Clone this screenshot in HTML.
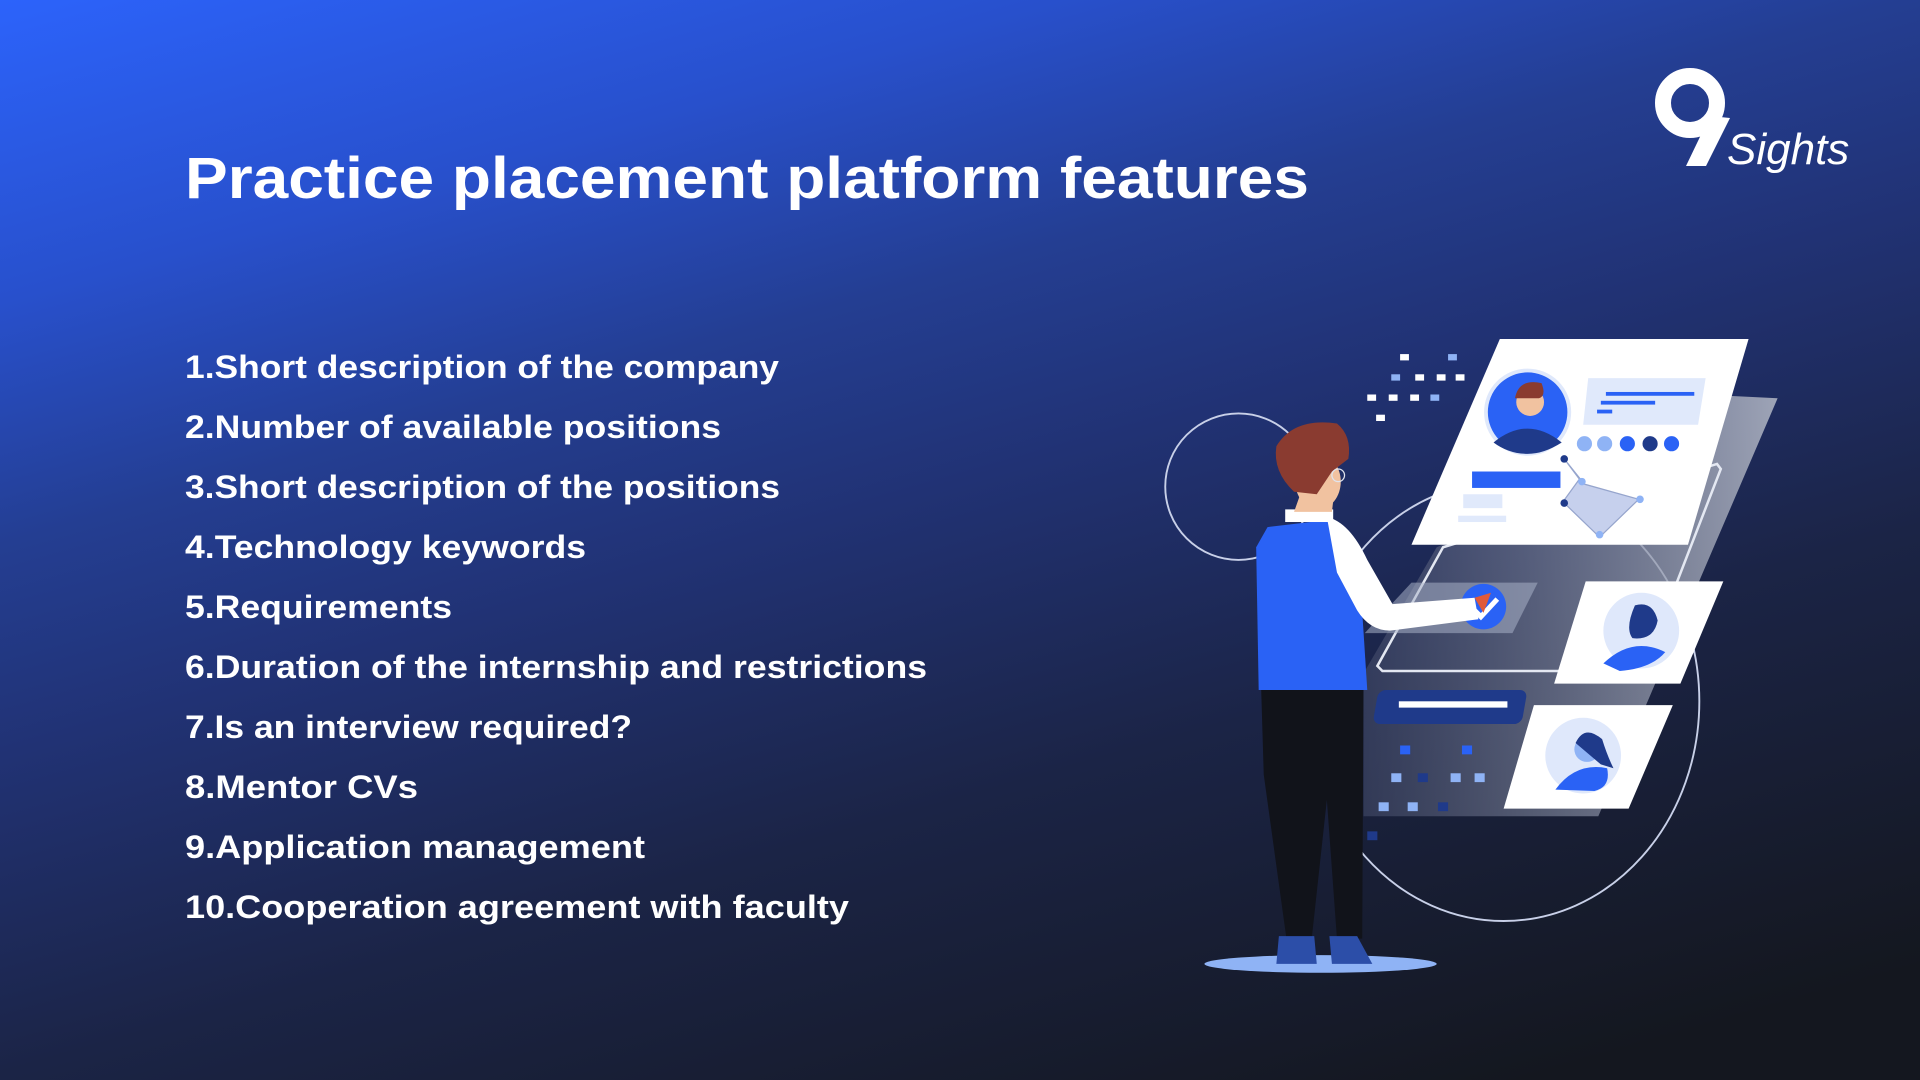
<!DOCTYPE html>
<html><head><meta charset="utf-8"><style>
html,body{margin:0;padding:0;width:1920px;height:1080px;overflow:hidden}
svg{display:block}
text{font-family:"Liberation Sans",sans-serif}
</style></head><body>
<svg width="1920" height="1080" viewBox="0 0 1920 1080" xmlns="http://www.w3.org/2000/svg">
<defs>
<linearGradient id="bg" x1="0" y1="0" x2="400" y2="1400" gradientUnits="userSpaceOnUse">
<stop offset="0" stop-color="#2c63fb"/>
<stop offset="0.2" stop-color="#2850cc"/>
<stop offset="0.36" stop-color="#243e92"/>
<stop offset="0.5" stop-color="#213274"/>
<stop offset="0.71" stop-color="#1b2446"/>
<stop offset="1" stop-color="#14171f"/>
</linearGradient>
<linearGradient id="panel" x1="0" y1="0" x2="1" y2="0">
<stop offset="0" stop-color="#4a5270" stop-opacity="0.6"/>
<stop offset="1" stop-color="#b4b9c6"/>
</linearGradient>
</defs>
<rect width="1920" height="1080" fill="url(#bg)"/>

<text x="185" y="198" font-size="58" font-weight="bold" fill="#fff" textLength="1124" lengthAdjust="spacingAndGlyphs">Practice placement platform features</text>

<g font-size="32" font-weight="bold" fill="#fff">
<text x="185" y="378" textLength="594" lengthAdjust="spacingAndGlyphs">1.Short description of the company</text>
<text x="185" y="438" textLength="536" lengthAdjust="spacingAndGlyphs">2.Number of available positions</text>
<text x="185" y="498" textLength="595" lengthAdjust="spacingAndGlyphs">3.Short description of the positions</text>
<text x="185" y="558" textLength="401" lengthAdjust="spacingAndGlyphs">4.Technology keywords</text>
<text x="185" y="618" textLength="267" lengthAdjust="spacingAndGlyphs">5.Requirements</text>
<text x="185" y="678" textLength="742" lengthAdjust="spacingAndGlyphs">6.Duration of the internship and restrictions</text>
<text x="185" y="738" textLength="447" lengthAdjust="spacingAndGlyphs">7.Is an interview required?</text>
<text x="185" y="798" textLength="233" lengthAdjust="spacingAndGlyphs">8.Mentor CVs</text>
<text x="185" y="858" textLength="460" lengthAdjust="spacingAndGlyphs">9.Application management</text>
<text x="185" y="918" textLength="664" lengthAdjust="spacingAndGlyphs">10.Cooperation agreement with faculty</text>
</g>

<g fill="none" stroke="#fff" stroke-width="16">
<circle cx="1690" cy="103" r="27"/>
</g>
<path d="M1710 116 L1686 166 L1706 166 L1730 118 Z" fill="#fff"/>
<text x="1727" y="164" font-size="44" font-style="italic" fill="#fff">Sights</text>

<g transform="translate(1140,320) scale(1.2626) translate(-1140,-320)">
<circle cx="1218" cy="452" r="58" fill="none" stroke="#c8d0e8" stroke-width="1.5"/>
<ellipse cx="1428" cy="622" rx="155" ry="174" fill="none" stroke="#c8d0e8" stroke-width="1.5"/>
<polygon points="1605,380 1645,382 1503,713 1317,713 1317,600 1375,500 1560,420" fill="url(#panel)" opacity="0.85"/>
<polygon points="1380,500 1597,434 1600,438 1538,598 1332,598 1328,594" fill="none" stroke="#e4e8f2" stroke-width="2"/>
<g fill="#fff">
<rect x="1346" y="347" width="7" height="5"/><rect x="1384" y="347" width="7" height="5" fill="#8fb3f5"/>
<rect x="1339" y="363" width="7" height="5" fill="#8fb3f5"/><rect x="1358" y="363" width="7" height="5"/><rect x="1375" y="363" width="7" height="5"/><rect x="1390" y="363" width="7" height="5"/>
<rect x="1320" y="379" width="7" height="5"/><rect x="1337" y="379" width="7" height="5"/><rect x="1354" y="379" width="7" height="5"/><rect x="1370" y="379" width="7" height="5" fill="#8fb3f5"/>
<rect x="1327" y="395" width="7" height="5"/>
</g>
<polygon points="1425,335 1622,335 1574,498 1355,498" fill="#fff"/>
<circle cx="1447" cy="393" r="33" fill="#2a62f5" stroke="#dfe8fb" stroke-width="3"/>
<path d="M1420 417 Q1447 395 1474 417 Q1460 426 1447 426 Q1432 426 1420 417Z" fill="#1f3a8a"/>
<circle cx="1449" cy="385" r="11" fill="#f1c2a0"/>
<path d="M1437 382 Q1440 366 1458 370 Q1462 380 1456 382Z" fill="#8a3b30"/>
<polygon points="1495,366 1588,366 1582,403 1491,403" fill="#e0e9fb"/>
<rect x="1509" y="377" width="70" height="3" fill="#2a62f5"/><rect x="1505" y="384" width="43" height="3" fill="#2a62f5"/><rect x="1502" y="391" width="12" height="3" fill="#2a62f5"/>
<circle cx="1492" cy="418" r="6" fill="#8fb3f5"/><circle cx="1508" cy="418" r="6" fill="#8fb3f5"/><circle cx="1526" cy="418" r="6" fill="#2a62f5"/><circle cx="1544" cy="418" r="6" fill="#1f3a8a"/><circle cx="1561" cy="418" r="6" fill="#2a62f5"/>
<rect x="1403" y="440" width="70" height="13" fill="#2a62f5"/>
<rect x="1396" y="458" width="31" height="11" fill="#e0e9fb"/>
<rect x="1392" y="475" width="38" height="5" fill="#e0e9fb"/>
<polygon points="1476,430 1492,450 1535,462 1504,492 1475,464 1488,446" fill="#aebde6" opacity="0.7" stroke="#6b7fb8" stroke-width="1"/>
<circle cx="1476" cy="430" r="3" fill="#1f3a8a"/><circle cx="1476" cy="465" r="3" fill="#1f3a8a"/><circle cx="1536" cy="462" r="3" fill="#8fb3f5"/><circle cx="1490" cy="448" r="3" fill="#8fb3f5"/><circle cx="1504" cy="490" r="3" fill="#8fb3f5"/>
<polygon points="1355,528 1455,528 1435,568 1318,568" fill="#a8b0c6" opacity="0.55"/>
<circle cx="1412" cy="547" r="18" fill="#2a62f5"/>
<path d="M1403 548 L1410 555 L1423 541" stroke="#fff" stroke-width="4" fill="none"/>
<rect x="1327" y="613" width="118" height="27" rx="6" fill="#1f3a8a" transform="skewX(-10) translate(110,0)"/>
<rect x="1345" y="622" width="86" height="5" fill="#fff"/>
<g>
<rect x="1346" y="657" width="8" height="7" fill="#2a62f5"/><rect x="1395" y="657" width="8" height="7" fill="#2a62f5"/>
<rect x="1339" y="679" width="8" height="7" fill="#8fb3f5"/><rect x="1360" y="679" width="8" height="7" fill="#1f3a8a"/><rect x="1386" y="679" width="8" height="7" fill="#8fb3f5"/><rect x="1405" y="679" width="8" height="7" fill="#8fb3f5"/>
<rect x="1329" y="702" width="8" height="7" fill="#8fb3f5"/><rect x="1352" y="702" width="8" height="7" fill="#8fb3f5"/><rect x="1376" y="702" width="8" height="7" fill="#1f3a8a"/>
<rect x="1320" y="725" width="8" height="7" fill="#1f3a8a"/>
</g>
<polygon points="1493,527 1602,527 1568,608 1468,608" fill="#fff"/>
<circle cx="1537" cy="566" r="30" fill="#dfe8fb"/>
<path d="M1507 592 Q1530 570 1556 583 Q1545 596 1520 598Z" fill="#2a62f5"/>
<path d="M1532 546 Q1546 542 1550 558 Q1547 574 1530 572 Q1524 564 1532 546Z" fill="#1f3a8a"/>
<polygon points="1452,625 1562,625 1527,707 1428,707" fill="#fff"/>
<circle cx="1491" cy="665" r="30" fill="#dfe8fb"/>
<path d="M1469 692 Q1485 670 1510 675 Q1513 690 1500 693Z" fill="#2a62f5"/>
<circle cx="1494" cy="660" r="10" fill="#8fb3f5"/>
<path d="M1485 655 Q1492 640 1506 652 Q1510 665 1515 675 L1505 672Z" fill="#1f3a8a"/>
<ellipse cx="1283" cy="830" rx="92" ry="7" fill="#8fb3f5"/>
<path d="M1236 613 L1317 613 L1316 810 L1296 810 L1288 700 L1276 810 L1256 810 L1238 680Z" fill="#11131a"/>
<path d="M1250 808 L1278 808 L1280 830 L1248 830Z" fill="#2c4ea8"/>
<path d="M1290 808 L1312 808 L1324 830 L1292 830Z" fill="#2c4ea8"/>
<path d="M1241 484 L1292 478 L1314 520 L1320 613 L1234 613 L1232 500Z" fill="#2a62f5"/>
<path d="M1288 476 Q1306 480 1320 510 L1340 545 L1405 540 L1408 557 L1338 566 Q1322 566 1312 550 L1296 520Z" fill="#fff"/>
<path d="M1405 540 L1418 536 L1412 552 Z" fill="#e05a3a"/>
<rect x="1255" y="470" width="38" height="10" fill="#fff"/>
<path d="M1262 472 L1292 472 L1294 455 L1268 455Z" fill="#f1c2a0"/>
<ellipse cx="1281" cy="448" rx="18" ry="22" fill="#f1c2a0"/>
<path d="M1248 420 Q1262 397 1296 402 Q1308 412 1305 430 L1292 440 L1280 458 L1262 456 Q1245 440 1248 420Z" fill="#8a3b30"/>
<circle cx="1297" cy="443" r="5" fill="none" stroke="#e0e4ee" stroke-width="1"/>
</g>
</svg>
</body></html>
